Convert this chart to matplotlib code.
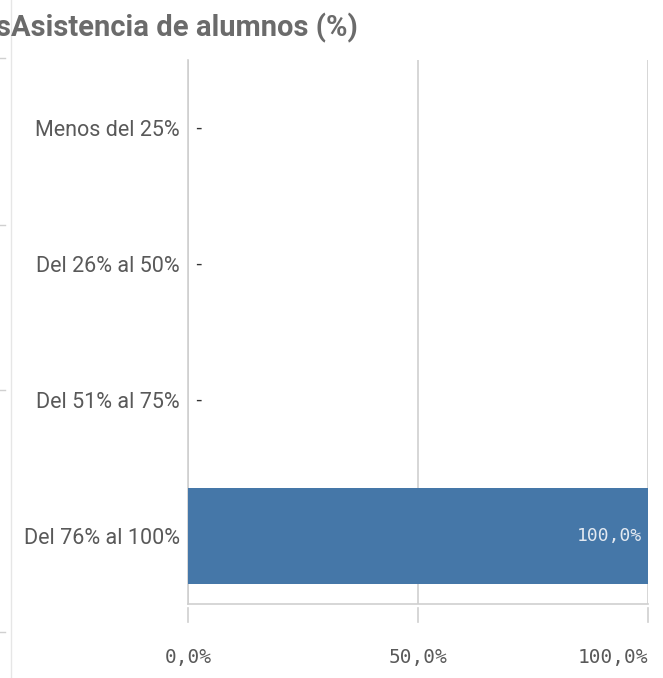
import matplotlib
matplotlib.use('Agg')
import matplotlib.pyplot as plt
from matplotlib.ticker import FuncFormatter

categorias = ['Menos del 25%', 'Del 26% al 50%', 'Del 51% al 75%', 'Del 76% al 100%']
valores = [0.0, 0.0, 0.0, 100.0]
x_ticks = [0, 50, 100]

bar_color = '#4577a8'
text_gray = '#595959'
grid_gray = '#cfcfcf'


def pct(v, pos=None):
    return '{:.1f}%'.format(v).replace('.', ',')


fig = plt.figure(figsize=(6.63, 6.78), dpi=100)
ax = fig.add_axes([188 / 663, 1 - 604 / 678, 460 / 663, 544 / 678])

y = list(range(len(categorias)))
ax.barh(y, valores, height=0.7, color=bar_color, zorder=3)

for yi, v in zip(y, valores):
    if v > 0:
        ax.text(v - 1.2, yi, pct(v), ha='right', va='center', color='#e3e9f1',
                fontsize=13, family='DejaVu Sans Mono', zorder=4)
    else:
        ax.text(1.6, yi, '-', ha='left', va='center', color='#333333', fontsize=13)

ax.set_xlim(0, 100)
ax.set_ylim(len(categorias) - 0.5, -0.5)
ax.set_yticks(y)
ax.set_yticklabels(categorias, fontsize=15.5, color=text_gray, family='Roboto')
ax.tick_params(axis='y', length=0, pad=6)

# vertical gridlines at the value ticks
for t in x_ticks:
    ax.axvline(t, color=grid_gray, lw=1.2, zorder=1)
    ax.plot([t, t], [-0.008, -0.033], transform=ax.get_xaxis_transform(),
            color=grid_gray, lw=1.2, clip_on=False)
ax.set_xticks(x_ticks)
ax.xaxis.set_major_formatter(FuncFormatter(pct))
ax.tick_params(axis='x', length=0, pad=32, labelsize=14, labelcolor=text_gray)
for lab in ax.get_xticklabels():
    lab.set_family('DejaVu Sans Mono')
labels = ax.get_xticklabels()
labels[-1].set_horizontalalignment('right')

for side in ['top', 'right']:
    ax.spines[side].set_visible(False)
for side in ['left', 'bottom']:
    ax.spines[side].set_color(grid_gray)
    ax.spines[side].set_linewidth(1.2)

# title and neighbouring panel edge
fig.text(11 / 663, 1 - 28 / 678, 'Asistencia de alumnos (%)', ha='left', va='center',
         fontsize=21, fontweight='bold', color='#6b6b6b', family='Roboto')
fig.text(-5 / 663, 1 - 28 / 678, 's', ha='left', va='center',
         fontsize=21, fontweight='bold', color='#6b6b6b', family='Roboto')
fig.add_artist(plt.Line2D([11 / 663, 11 / 663], [0, 1], color='#e6e6e6', lw=1))
for yy in [58, 225, 390, 632]:
    fig.add_artist(plt.Line2D([0, 5 / 663], [1 - yy / 678] * 2, color='#d0d0d0', lw=1))

fig.savefig('out.png', dpi=100)
